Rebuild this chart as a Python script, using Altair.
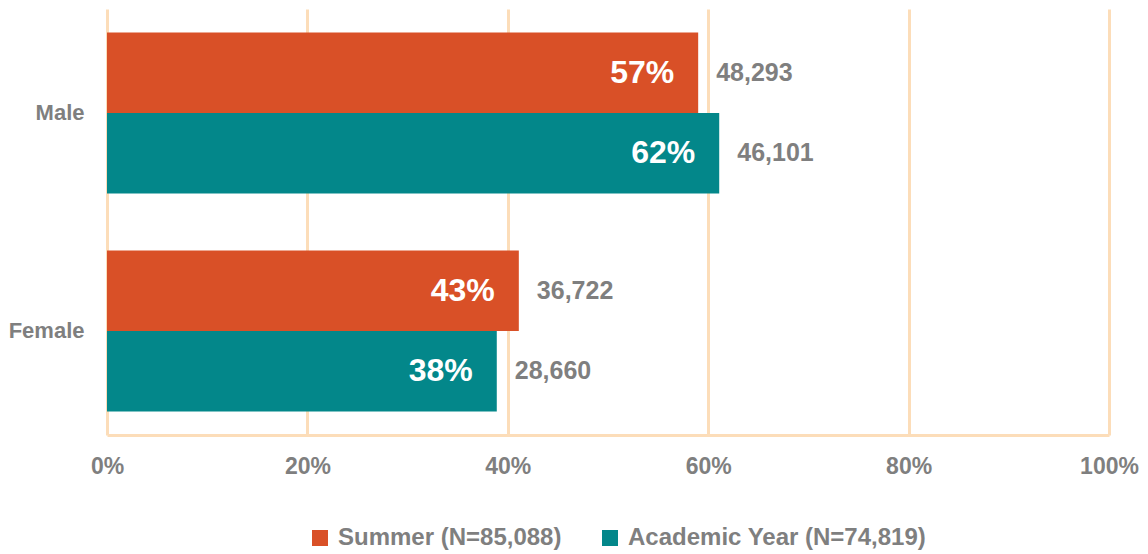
import altair as alt
import pandas as pd

genders = ["Male", "Male", "Female", "Female"]
seasons = ["Summer (N=85,088)", "Academic Year (N=74,819)",
           "Summer (N=85,088)", "Academic Year (N=74,819)"]
bar_values = [59.0, 61.1, 41.1, 38.9]
pct_labels = ["57%", "62%", "43%", "38%"]
count_labels = ["48,293", "46,101", "36,722", "28,660"]
x_ticks = [0, 20, 40, 60, 80, 100]

season_order = ["Summer (N=85,088)", "Academic Year (N=74,819)"]
gender_order = ["Male", "Female"]
colors = ["#D95027", "#03878A"]

df = pd.DataFrame({
    "gender": genders,
    "season": seasons,
    "value": bar_values,
    "pct": pct_labels,
    "count": count_labels,
})

FONT = "Liberation Sans"
GRAY = "#7f7f7f"
GRID = "#FCDDB9"

y_enc = alt.Y("gender:N", sort=gender_order,
              scale=alt.Scale(paddingInner=0.2625, paddingOuter=0.108),
              axis=alt.Axis(title=None, domain=False, ticks=False, tickSize=0,
                            labelPadding=23, labelFontSize=22,
                            labelFontWeight="bold", labelColor=GRAY,
                            labelFont=FONT, grid=False))
yoff_enc = alt.YOffset("season:N", sort=season_order,
                       scale=alt.Scale(paddingInner=0, paddingOuter=0))
x_enc = alt.X("value:Q",
              scale=alt.Scale(domain=[0, 100], nice=False),
              axis=alt.Axis(title=None, values=x_ticks,
                            labelExpr="datum.value + '%'",
                            labelFlush=False, labelAlign="center",
                            grid=True, gridColor=GRID, gridWidth=3,
                            domain=True, domainColor=GRID, domainWidth=3,
                            ticks=False, tickSize=0, labelPadding=20,
                            labelFontSize=23, labelFontWeight="bold",
                            labelColor=GRAY, labelFont=FONT))

base = alt.Chart(df)

bars = base.mark_bar(size=80.5, cornerRadius=0).encode(
    x=x_enc,
    y=y_enc,
    yOffset=yoff_enc,
    color=alt.Color("season:N", sort=season_order,
                    scale=alt.Scale(domain=season_order, range=colors),
                    legend=alt.Legend(title=None, orient="none",
                                      direction="horizontal",
                                      legendX=201, legendY=517,
                                      symbolType="square", symbolSize=256,
                                      symbolStrokeWidth=0, symbolOpacity=1,
                                      labelFontSize=24, labelFontWeight="bold",
                                      labelColor=GRAY, labelFont=FONT,
                                      labelLimit=500, labelOffset=6,
                                      columnPadding=36)),
)

pct_text = base.mark_text(align="right", baseline="middle", dx=-24,
                          fontSize=32, fontWeight="bold", color="white",
                          font=FONT).encode(
    x="value:Q", y=alt.Y("gender:N", sort=gender_order), yOffset=yoff_enc,
    text="pct:N")

count_text = base.mark_text(align="left", baseline="middle", dx=18,
                            fontSize=25, fontWeight="bold", color=GRAY,
                            font=FONT).encode(
    x="value:Q", y=alt.Y("gender:N", sort=gender_order), yOffset=yoff_enc,
    text="count:N")

chart = alt.layer(bars, pct_text, count_text).properties(
    width=1002, height=426,
    autosize=alt.AutoSizeParams(type="none"),
    padding={"left": 99, "top": 1, "right": 30, "bottom": 115},
).configure_view(stroke=None)

chart.save("out.html", embed_options={"renderer": "svg", "actions": False})
